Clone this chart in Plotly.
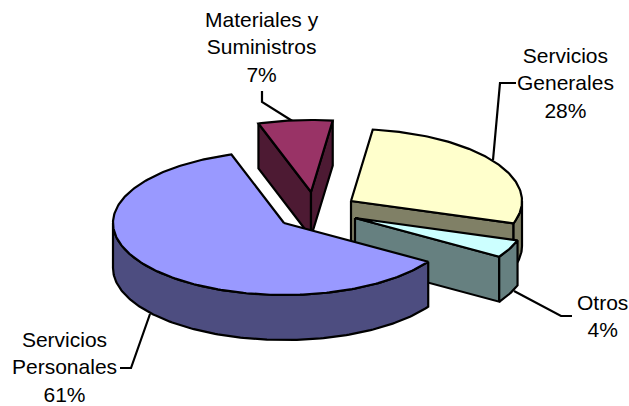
import math
import plotly.graph_objects as go

# Data
categories = ["Servicios<br>Personales", "Materiales y<br>Suministros", "Servicios<br>Generales", "Otros"]
values = [61, 7, 28, 4]

# Pie projection (pixels)
START = 122.5
RX, RY, DEPTH = 171.0, 72.0, 45.0
centers = [(284, 223), (311, 192), (351, 201), (355, 218)]
top_colors = ["#9999FF", "#993366", "#FFFFCC", "#CCFFFF"]
side_colors = ["#4D4D80", "#4D1A33", "#808066", "#668080"]
draw_order = [1, 2, 3, 0]

# Label layout
label_pos = [(64, 367), (262, 47), (565, 83), (602, 316)]
leaders = [
    [(120, 368), (131, 368), (150, 314)],
    [(262, 91), (262, 102), (294, 122)],
    [(516, 83), (500, 83), (493, 160)],
    [(514, 291), (561, 316), (572, 316)],
]

LW = 2.2
fig = go.Figure()


def poly(xs, ys, color):
    fig.add_trace(go.Scatter(x=xs, y=ys, mode="lines", fill="toself", fillcolor=color,
                             line=dict(color="black", width=LW), hoverinfo="skip", showlegend=False))


def rim(c, a):
    r = math.radians(a)
    return c[0] + RX * math.sin(r), c[1] - RY * math.cos(r)


def arc(c, a, b):
    n = max(2, int(abs(b - a)) + 1)
    return [rim(c, a + (b - a) * i / (n - 1)) for i in range(n)]


# Slice angles from the values
total = sum(values)
spans = []
cur = START
for v in values:
    spans.append((cur, cur + 360 * v / total))
    cur += 360 * v / total

for xs in leaders:
    fig.add_trace(go.Scatter(x=[p[0] for p in xs], y=[p[1] for p in xs], mode="lines",
                             line=dict(color="black", width=LW), hoverinfo="skip", showlegend=False))

for i in draw_order:
    a, b = spans[i]
    c = centers[i]
    side = side_colors[i]
    # radial side faces that look towards the viewer
    if math.sin(math.radians(a)) < 0:
        p = rim(c, a)
        poly([c[0], p[0], p[0], c[0], c[0]], [c[1], p[1], p[1] + DEPTH, c[1] + DEPTH, c[1]], side)
    if math.sin(math.radians(b)) > 0:
        p = rim(c, b)
        poly([c[0], p[0], p[0], c[0], c[0]], [c[1], p[1], p[1] + DEPTH, c[1] + DEPTH, c[1]], side)
    # outer wall: the part of the rim on the near half
    for k in (0, 360):
        lo, hi = max(a, 90 + k), min(b, 270 + k)
        if lo < hi:
            pts = arc(c, lo, hi)
            ring = pts + [(x, y + DEPTH) for x, y in reversed(pts)] + [pts[0]]
            poly([p[0] for p in ring], [p[1] for p in ring], side)
    # top surface
    pts = [c] + arc(c, a, b) + [c]
    poly([p[0] for p in pts], [p[1] for p in pts], top_colors[i])

annotations = [
    dict(x=x, y=y, text=f"{name}<br>{v}%", showarrow=False, xanchor="center", yanchor="middle",
         align="center", font=dict(family="Liberation Sans, Arial, sans-serif", size=21, color="black"))
    for name, v, (x, y) in zip(categories, values, label_pos)
]

fig.update_layout(
    width=629, height=406, margin=dict(l=0, r=0, t=0, b=0),
    paper_bgcolor="white", plot_bgcolor="white", showlegend=False,
    xaxis=dict(range=[0, 629], visible=False, fixedrange=True),
    yaxis=dict(range=[406, 0], visible=False, fixedrange=True),
    annotations=annotations,
)
fig.write_html("out.html", config={"displayModeBar": False},
               post_script="document.body.style.margin='0';")
